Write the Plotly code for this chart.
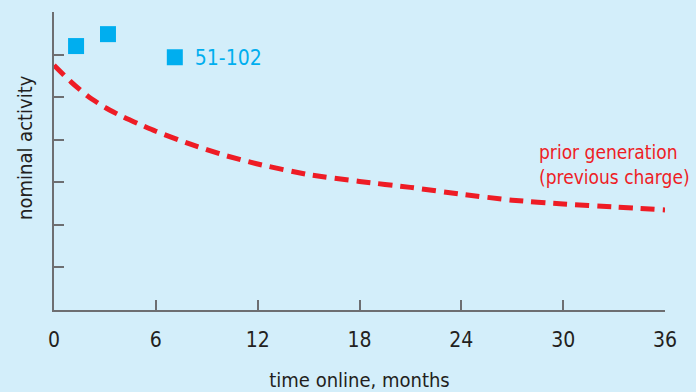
import plotly.graph_objects as go

# Nominal activity of the prior generation charge over time on line
months = [0, 1, 2, 3, 4, 5, 6, 8, 10, 12, 15, 18, 21, 24, 27, 30, 33, 36]
prior_activity = [5.75, 5.36, 5.02, 4.76, 4.55, 4.37, 4.2, 3.9, 3.64, 3.43,
                  3.18, 3.02, 2.88, 2.72, 2.58, 2.49, 2.42, 2.35]

# Measured activity of the new batch
batch_months = [1.3, 3.18]
batch_activity = [6.2, 6.48]
batch_name = "51-102"

x_ticks = [0, 6, 12, 18, 24, 30, 36]
y_ticks = [1, 2, 3, 4, 5, 6, 7]

BG = "#d3eefa"
RED = "#ee1c25"
CYAN = "#00aeef"
AXIS = "#6d6e71"
INK = "#231f20"
FONT = "DejaVu Sans Condensed, Liberation Sans Narrow, sans-serif"

fig = go.Figure()

fig.add_trace(go.Scatter(
    x=months, y=prior_activity, mode="lines",
    line=dict(color=RED, width=5, dash="14px,8px", shape="spline", smoothing=0.6),
    showlegend=False, hoverinfo="skip",
))

fig.add_trace(go.Scatter(
    x=batch_months, y=batch_activity, mode="markers", name=batch_name,
    marker=dict(symbol="square", size=16, color=CYAN, line=dict(width=0)),
    showlegend=True,
))

fig.add_annotation(
    x=(537 - 54) / 611, y=0.487, xref="paper", yref="paper",
    xanchor="left", yanchor="middle",
    text="prior generation<br>(previous charge)", showarrow=False, align="left",
    font=dict(family=FONT, size=19, color=RED),
)

# y-axis title, placed slightly above the axis centre
fig.add_annotation(
    x=-0.0475, y=0.547, xref="paper", yref="paper",
    xanchor="center", yanchor="middle", textangle=-90,
    text="nominal activity", showarrow=False,
    font=dict(family=FONT, size=20, color=INK),
)

fig.update_layout(
    width=696, height=392,
    margin=dict(l=54, r=31, t=12, b=82, autoexpand=False),
    paper_bgcolor=BG, plot_bgcolor=BG,
    font=dict(family=FONT, size=20, color=INK),
    legend=dict(
        x=0.165, y=0.847, xanchor="left", yanchor="middle",
        bgcolor="rgba(0,0,0,0)", font=dict(family=FONT, size=21, color=CYAN),
        itemwidth=30,
    ),
    xaxis=dict(
        range=[0, 36], tickvals=x_ticks, ticks="inside", ticklen=10,
        tickcolor=AXIS, tickwidth=1.5, showline=True, linecolor=AXIS, linewidth=2,
        showgrid=False, zeroline=False, ticklabelstandoff=10, automargin=False,
        tickfont=dict(family=FONT, size=21, color=INK),
        title=dict(text="time online, months", standoff=32,
                   font=dict(family=FONT, size=20, color=INK)),
    ),
    yaxis=dict(
        range=[0, 7], tickvals=y_ticks, ticks="inside", ticklen=10,
        tickcolor=AXIS, tickwidth=1.5, showline=True, linecolor=AXIS, linewidth=2,
        showgrid=False, zeroline=False, showticklabels=False, automargin=False,
    ),
)

fig.write_html("out.html")
